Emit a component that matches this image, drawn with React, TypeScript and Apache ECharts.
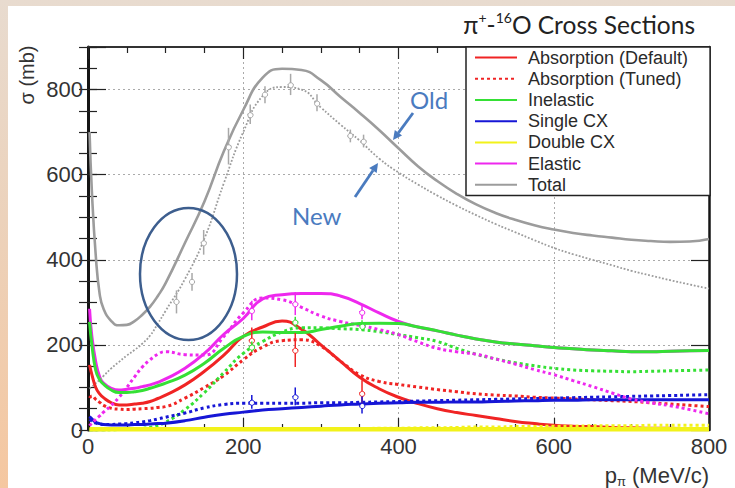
import { useEffect, useRef } from "react";
import * as echarts from "echarts";

// momentum grid (MeV/c)
const P = [2, 5, 10, 15, 20, 30, 40, 50, 60, 70, 80, 90, 100, 125, 150, 175, 200, 225, 250, 275, 300, 325, 350, 375, 400, 425, 450, 475, 500, 525, 550, 575, 600, 625, 650, 675, 700, 725, 750, 775, 800];

const absDefault = [153, 130, 100, 85, 76, 64, 59, 59, 61, 63, 67, 74, 82, 106, 138, 176, 220, 242, 256, 237, 200, 162, 124, 97, 77, 62, 50, 41, 34, 27, 20, 15, 11, 9, 8, 6, 5, 4, 4, 3, 3];
const absTuned = [75, 80, 72, 65, 58, 51, 49, 48, 49, 50, 51, 53, 55, 75, 100, 128, 165, 195, 210, 212, 197, 162, 130, 114, 107, 101, 95, 90, 85, 82, 80, 77, 75, 73, 71, 69, 67, 64, 61, 58, 55];
const inelastic = [254, 200, 140, 118, 108, 94, 88, 88, 90, 93, 98, 104, 110, 129, 157, 192, 220, 230, 229, 229, 236, 244, 250, 251, 250, 242, 233, 223, 214, 207, 202, 198, 194, 191, 188, 186, 184, 184, 185, 186, 187];
const inelasticTuned = [0, 0, 0, 0, 0, 0, 1, 2, 3, 4, 6, 11, 18, 48, 88, 135, 180, 208, 230, 240, 240, 238, 236, 231, 224, 217, 208, 192, 178, 167, 158, 151, 145, 141, 139, 138, 137, 138, 139, 140, 141];
const singleCX = [32, 26, 18, 15, 13, 12, 12, 12, 13, 13, 14, 15, 16, 22, 30, 37, 42, 47, 50, 53, 56, 59, 61, 63, 64, 65, 65, 66, 66, 67, 68, 69, 70, 70, 71, 71, 71, 71, 71, 71, 71];
const singleCXTuned = [25, 21, 16, 14, 13, 13, 14, 15, 17, 19, 22, 26, 30, 40, 52, 60, 63, 63, 63, 63, 64, 64, 65, 66, 67, 68, 69, 70, 71, 72, 73, 74, 75, 76, 77, 78, 79, 80, 81, 82, 83];
const doubleCX = [2, 2, 2, 2, 2, 2, 2, 2, 2, 2, 2, 2, 2, 2, 2, 2, 2, 2, 2, 2, 2, 2, 2, 2, 2, 2, 2, 2, 2, 2, 2, 2, 2, 2, 2, 2, 2, 2, 2, 2, 2];
const doubleCXTuned = [2, 2, 2, 2, 2, 2, 2, 2, 2, 2, 2, 2, 2, 2, 2, 2, 2, 2, 2, 2, 2, 3, 3, 4, 4, 5, 5, 6, 7, 7, 8, 8, 9, 9, 10, 10, 10, 11, 11, 11, 11];
const elastic = [285, 220, 160, 125, 110, 98, 94, 96, 98, 102, 106, 112, 120, 145, 180, 225, 262, 308, 318, 321, 321, 315, 297, 275, 255, 242, 233, 223, 214, 207, 202, 198, 194, 191, 188, 186, 184, 184, 185, 186, 187];
const elasticTuned = [10, 16, 25, 33, 42, 58, 77, 100, 125, 148, 165, 178, 184, 177, 176, 220, 275, 310, 306, 288, 268, 255, 246, 236, 224, 207, 192, 184, 178, 167, 155, 142, 130, 116, 102, 87, 73, 64, 57, 48, 38];
const totalOld = [700, 560, 410, 320, 285, 256, 246, 247, 256, 271, 290, 315, 345, 440, 537, 655, 752, 828, 849, 846, 822, 783, 745, 705, 662, 620, 585, 555, 530, 510, 494, 481, 471, 463, 457, 452, 447, 444, 442, 443, 449];
const totalNew = [97, 101, 110, 118, 127, 145, 160, 175, 188, 203, 222, 250, 280, 355, 450, 580, 700, 785, 806, 800, 758, 718, 680, 638, 605, 577, 551, 527, 505, 484, 465, 446, 428, 413, 400, 387, 374, 363, 352, 342, 332];

// measured points with error bars
const totalPtsX = [114, 134, 149, 181, 209, 228, 261, 295, 338, 355];
const totalPtsY = [301, 348, 441, 667, 742, 788, 812, 769, 691, 679];
const totalPtsErr = [27, 21, 29, 43, 23, 20, 25, 20, 15, 15];
const ptsX = [211, 267, 353];
const absPts = [211, 188, 87];
const absErr = [30, 40, 30];
const elPts = [281, 297, 278];
const elErr = [23, 27, 18];
const inelPts = [196, 254, 246];
const inelErr = [12, 12, 12];
const scxPts = [66, 79, 59];
const scxErr = [16, 21, 20];

const xTicks = { min: 0, max: 800, interval: 200 };
const yTicks = { min: 0, max: 900, interval: 200, minor: 50 };

const legendNames = ["Absorption (Default)", "Absorption (Tuned)", "Inelastic", "Single CX", "Double CX", "Elastic", "Total"];

const RED = "#f02424";
const GREEN = "#35e035";
const BLUE = "#1616d6";
const YELLOW = "#f2f21a";
const MAGENTA = "#ee28ee";
const GRAY = "#9c9c9c";
const FONT = "Liberation Sans, Arial, sans-serif";
const CAL = "Lato, 'Open Sans', sans-serif";

const pair = (ys: number[]) => P.map((x, i) => [x, ys[i]]);

function lineSeries(name: string, ys: number[], color: string, width: number, dotted: boolean, z = 2, clip = true) {
  return {
    name,
    type: "line",
    data: pair(ys),
    showSymbol: false,
    symbol: "none",
    smooth: 0.5,
    clip,
    z,
    lineStyle: { color, width, type: dotted ? [width, width] : "solid" },
    itemStyle: { color },
  };
}

function errSeries(name: string, xs: number[], ys: number[], es: number[], color: string) {
  return {
    name,
    type: "custom",
    z: 5,
    data: xs.map((x, i) => [x, ys[i], es[i]]),
    encode: { x: 0, y: 1 },
    renderItem: (params: any, api: any) => {
      const x = api.value(0);
      const y = api.value(1);
      const e = api.value(2);
      const t = api.coord([x, y + e]);
      const b = api.coord([x, y - e]);
      const c = api.coord([x, y]);
      return {
        type: "group",
        children: [
          { type: "line", shape: { x1: t[0], y1: t[1], x2: b[0], y2: b[1] }, style: { stroke: color, lineWidth: 1.5 } },
          { type: "line", shape: { x1: c[0] - 3, y1: c[1], x2: c[0] + 3, y2: c[1] }, style: { stroke: color, lineWidth: 1 } },
          { type: "circle", shape: { cx: c[0], cy: c[1], r: 2.6 }, style: { stroke: color, fill: "#fff", lineWidth: 1 } },
        ],
      };
    },
  };
}

const axisLineDark = (w: number) => ({ show: true, onZero: false, lineStyle: { color: "#151515", width: w } });
const grid = { type: [2, 3], color: "#aaaaaa", width: 1 };

export default function App() {
  const ref = useRef<HTMLDivElement>(null);
  useEffect(() => {
    const chart = echarts.init(ref.current!, null, { renderer: "svg" });
    const option: any = {
      animation: false,
      grid: { left: 88, right: 26, top: 47, bottom: 56 },
      title: {
        text: "{a|π}{s|+}{a|-}{s|16}{a|O Cross Sections}",
        right: 40,
        top: 10,
        padding: 0,
        textStyle: {
          fontWeight: "normal",
          rich: {
            a: { fontFamily: CAL, fontSize: 24.5, fontWeight: "normal", color: "#222", lineHeight: 28 },
            s: { fontFamily: CAL, fontSize: 14, fontWeight: "normal", color: "#222", lineHeight: 16, verticalAlign: "top" },
          },
        },
      },
      legend: {
        data: legendNames,
        orient: "vertical",
        left: 466,
        top: 47,
        padding: [0, 22, 0, 8],
        itemGap: 0,
        itemWidth: 42,
        itemHeight: 14,
        borderColor: "#222",
        borderWidth: 1.5,
        borderRadius: 0,
        backgroundColor: "#fff",
        itemStyle: { color: "rgba(0,0,0,0)", borderWidth: 0, opacity: 0 },
        textStyle: { fontFamily: FONT, fontSize: 18, color: "#2a2a2a", lineHeight: 21.2, padding: [0, 0, 0, 6] },
      },
      xAxis: [
        {
          type: "value",
          position: "bottom",
          ...xTicks,
          axisLine: axisLineDark(2),
          axisTick: { inside: true, length: 12, lineStyle: { color: "#222", width: 1.2 } },
          minorTick: { show: true, splitNumber: 4, length: 6, lineStyle: { color: "#222", width: 1.2 } },
          axisLabel: { fontFamily: FONT, fontSize: 22, color: "#333", margin: 5 },
          splitLine: { show: true, lineStyle: grid },
          name: "{p|p}{s|π}{p| (MeV/c)}",
          nameLocation: "end",
          nameGap: 0,
          nameTextStyle: {
            align: "right",
            verticalAlign: "top",
            padding: [32, 0, 0, 0],
            rich: {
              p: { fontFamily: FONT, fontSize: 22, color: "#333", lineHeight: 26 },
              s: { fontFamily: FONT, fontSize: 13, color: "#333", lineHeight: 12, verticalAlign: "bottom" },
            },
          },
        },
        {
          type: "value",
          position: "top",
          ...xTicks,
          axisLine: { show: true, onZero: false, lineStyle: { color: "#333", width: 2 } },
          axisTick: { inside: true, length: 12, lineStyle: { color: "#222", width: 1.2 } },
          minorTick: { show: true, splitNumber: 4, length: 6, lineStyle: { color: "#222", width: 1.2 } },
          axisLabel: { show: false },
          splitLine: { show: false },
        },
      ],
      yAxis: [
        {
          type: "value",
          position: "left",
          min: yTicks.min,
          max: yTicks.max,
          interval: yTicks.interval,
          axisLine: axisLineDark(3),
          axisTick: { inside: true, length: 18, lineStyle: { color: "#222", width: 1.2 } },
          axisLabel: {
            fontFamily: FONT,
            fontSize: 22,
            color: "#333",
            margin: 5,
            formatter: (v: number) => (v === yTicks.max ? "" : String(v)),
          },
          splitLine: { show: true, lineStyle: grid },
        },
        {
          type: "value",
          position: "right",
          min: yTicks.min,
          max: yTicks.max,
          interval: yTicks.interval,
          axisLine: axisLineDark(2.5),
          axisTick: { inside: true, length: 18, lineStyle: { color: "#222", width: 1.2 } },
          axisLabel: { show: false },
          splitLine: { show: false },
        },
        {
          type: "value",
          position: "left",
          min: yTicks.min,
          max: yTicks.max,
          interval: yTicks.minor,
          axisLine: { show: false },
          axisTick: { inside: true, length: 9, lineStyle: { color: "#222", width: 1.2 } },
          axisLabel: { show: false },
          splitLine: { show: false },
        },
        {
          type: "value",
          position: "right",
          min: yTicks.min,
          max: yTicks.max,
          interval: yTicks.minor,
          axisLine: { show: false },
          axisTick: { inside: true, length: 9, lineStyle: { color: "#222", width: 1.2 } },
          axisLabel: { show: false },
          splitLine: { show: false },
        },
      ],
      series: [
        lineSeries("Total (Tuned)", totalNew, GRAY, 1.8, true),
        lineSeries("Absorption (Default)", absDefault, RED, 3, false),
        lineSeries("Absorption (Tuned)", absTuned, RED, 3, true),
        lineSeries("Inelastic", inelastic, GREEN, 3, false, 3),
        lineSeries("Inelastic (Tuned)", inelasticTuned, GREEN, 3, true),
        lineSeries("Single CX", singleCX, BLUE, 3, false),
        lineSeries("Single CX (Tuned)", singleCXTuned, BLUE, 3, true),
        lineSeries("Double CX (Tuned)", doubleCXTuned, YELLOW, 3, true, 2, false),
        lineSeries("Double CX", doubleCX, YELLOW, 4.5, false, 3, false),
        lineSeries("Elastic", elastic, MAGENTA, 3, false, 1),
        lineSeries("Elastic (Tuned)", elasticTuned, MAGENTA, 3, true),
        lineSeries("Total", totalOld, GRAY, 2.6, false),
        errSeries("Total data", totalPtsX, totalPtsY, totalPtsErr, "#a8a8a8"),
        errSeries("Absorption data", ptsX, absPts, absErr, RED),
        errSeries("Elastic data", ptsX, elPts, elErr, MAGENTA),
        errSeries("Inelastic data", ptsX, inelPts, inelErr, GREEN),
        errSeries("Single CX data", ptsX, scxPts, scxErr, BLUE),
      ],
      graphic: [
        {
          type: "text",
          x: 27,
          y: 75,
          rotation: Math.PI / 2,
          style: { text: "σ (mb)", font: `20px ${FONT}`, fill: "#333", align: "center", verticalAlign: "middle" },
        },
        {
          type: "ellipse",
          shape: { cx: 188.5, cy: 274, rx: 48.5, ry: 66 },
          style: { fill: "none", stroke: "#3d5e8e", lineWidth: 2.5 },
          z: 10,
        },
        { type: "text", x: 410, y: 99, style: { text: "Old", font: `24px ${CAL}`, fill: "#4a7bbf", verticalAlign: "middle" }, z: 10 },
        { type: "text", x: 292, y: 215, style: { text: "New", font: `24px ${CAL}`, fill: "#4a7bbf", verticalAlign: "middle" }, z: 10 },
        { type: "line", shape: { x1: 413, y1: 113, x2: 398.4, y2: 132.8 }, style: { stroke: "#4a7bbf", lineWidth: 2.8 }, z: 10 },
        { type: "polygon", shape: { points: [[393, 140], [402, 135.5], [394.8, 130.1]] }, style: { fill: "#4a7bbf" }, z: 10 },
        { type: "line", shape: { x1: 355, y1: 197, x2: 373, y2: 170.5 }, style: { stroke: "#4a7bbf", lineWidth: 2.8 }, z: 10 },
        { type: "polygon", shape: { points: [[378, 163], [376.7, 173], [369.2, 167.9]] }, style: { fill: "#4a7bbf" }, z: 10 },
      ],
    };
    chart.setOption(option);
    return () => chart.dispose();
  }, []);
  return (
    <div
      style={{
        position: "fixed",
        left: 0,
        top: 0,
        width: 735,
        height: 488,
        background: "linear-gradient(180deg, #e8dbcf 0%, #ecd2bb 45%, #f5c7a0 100%)",
      }}
    >
      <div style={{ position: "absolute", left: 8, top: 6, right: 0, bottom: 0, background: "#fff" }} />
      <div ref={ref} style={{ position: "absolute", left: 0, top: 0, width: 735, height: 488 }} />
    </div>
  );
}
